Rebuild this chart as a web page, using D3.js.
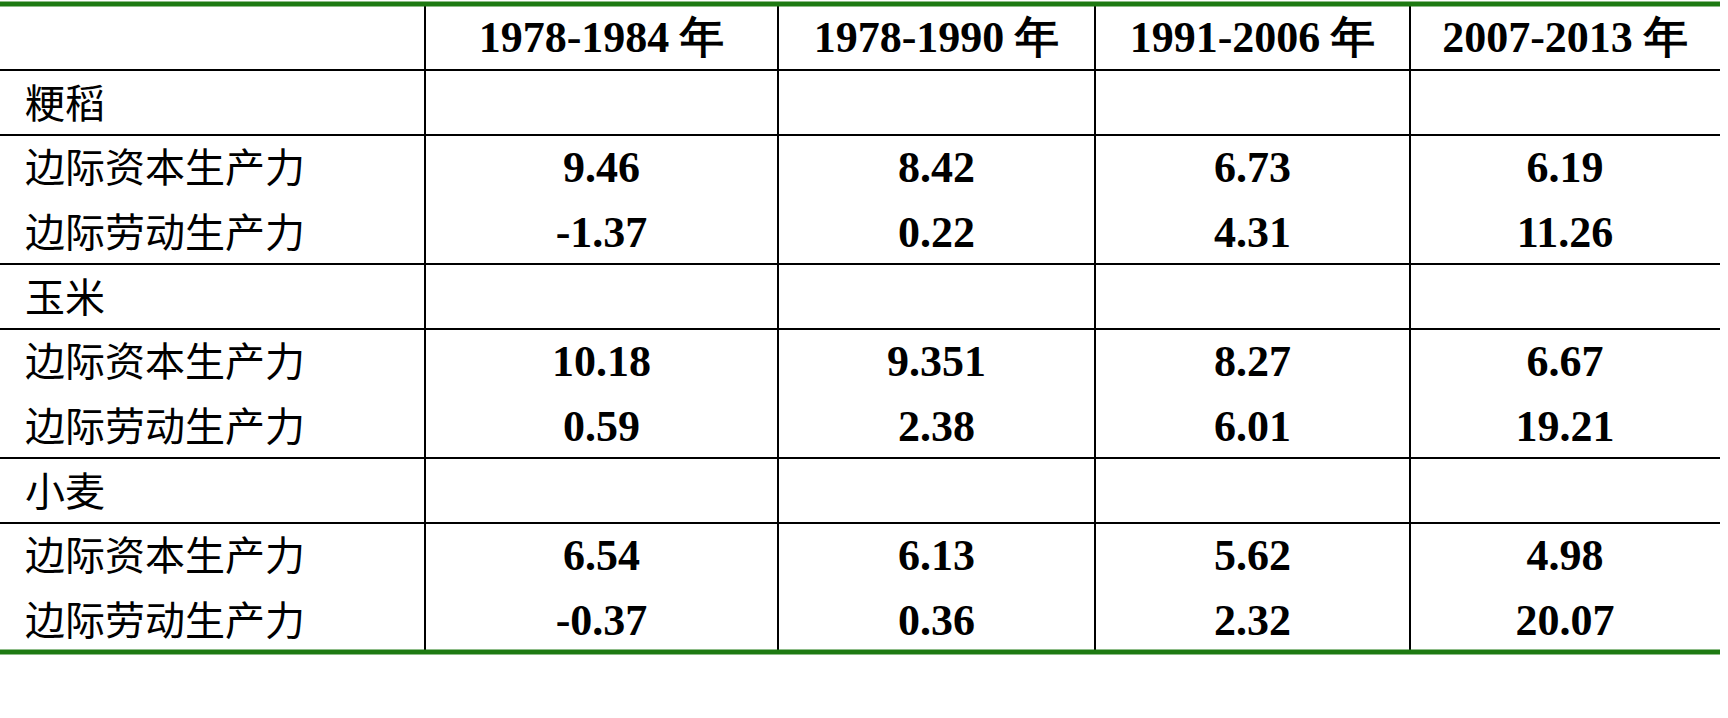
<!DOCTYPE html>
<html>
<head>
<meta charset="utf-8">
<script src="https://d3js.org/d3.v7.min.js"></script>
<style>body{margin:0;background:#fff}</style>
</head>
<body>
<script>
var periods = ["1978-1984 年", "1978-1990 年", "1991-2006 年", "2007-2013 年"];
var crops = ["粳稻", "玉米", "小麦"];
var measures = ["边际资本生产力", "边际劳动生产力"];
// values[crop][period]
var capital = [["9.46", "8.42", "6.73", "6.19"], ["10.18", "9.351", "8.27", "6.67"], ["6.54", "6.13", "5.62", "4.98"]];
var labour = [["-1.37", "0.22", "4.31", "11.26"], ["0.59", "2.38", "6.01", "19.21"], ["-0.37", "0.36", "2.32", "20.07"]];

var W = 1728, H = 718;
var svg = d3.select("body").append("svg").attr("width", W).attr("height", H);

// column edges
var colEdges = [0, 425, 778, 1095, 1410, 1720];
var x = d3.scaleOrdinal().domain(periods).range(periods.map((p, i) => (colEdges[i + 1] + colEdges[i + 2]) / 2));

// rows: header, then for each crop a title row and two measure lines
var tableTop = 4, headerH = 66, catH = 65, lineH = 64.5;
var rows = [];
var yy = tableTop + headerH;
crops.forEach(function(c, ci) {
  rows.push({type: "cat", crop: c, y0: yy, y1: yy + catH});
  yy += catH;
  rows.push({type: "data", ci: ci, y0: yy, y1: yy + 2 * lineH});
  yy += 2 * lineH;
});
var tableBottom = yy;

var serif = '"Liberation Serif", "Times New Roman", serif';
var cjk = '"Noto Sans CJK SC", sans-serif';

// grid lines
var g = svg.append("g");
rows.forEach(function(r) {
  g.append("line").attr("x1", 0).attr("x2", 1720).attr("y1", r.y0).attr("y2", r.y0)
    .attr("stroke", "#000").attr("stroke-width", 2);
});
colEdges.slice(1, 5).forEach(function(cx) {
  g.append("line").attr("x1", cx).attr("x2", cx).attr("y1", tableTop).attr("y2", tableBottom)
    .attr("stroke", "#000").attr("stroke-width", 2);
});
g.append("line").attr("x1", 0).attr("x2", 1720).attr("y1", tableTop).attr("y2", tableTop).attr("stroke", "#1e7a12").attr("stroke-width", 5);
g.append("line").attr("x1", 0).attr("x2", 1720).attr("y1", tableBottom).attr("y2", tableBottom).attr("stroke", "#1e7a12").attr("stroke-width", 5);

// header
svg.selectAll("text.hd").data(periods).join("text").attr("class", "hd")
  .attr("x", d => x(d)).attr("y", tableTop + headerH / 2 + 15)
  .attr("text-anchor", "middle").style("font-family", serif).style("font-weight", "bold").style("font-size", "44px")
  .text(d => d);

rows.forEach(function(r) {
  if (r.type === "cat") {
    svg.append("text").attr("x", 25).attr("y", (r.y0 + r.y1) / 2 + 15)
      .style("font-family", cjk).style("font-size", "40px").text(r.crop);
  } else {
    [capital[r.ci], labour[r.ci]].forEach(function(vals, mi) {
      var cy = r.y0 + lineH * (mi + 0.5) + 15;
      svg.append("text").attr("x", 25).attr("y", cy)
        .style("font-family", cjk).style("font-size", "40px").text(measures[mi]);
      vals.forEach(function(v, pi) {
        svg.append("text").attr("x", x(periods[pi])).attr("y", cy).attr("text-anchor", "middle")
          .style("font-family", serif).style("font-weight", "bold").style("font-size", "44px").text(v);
      });
    });
  }
});
</script>
</body>
</html>
